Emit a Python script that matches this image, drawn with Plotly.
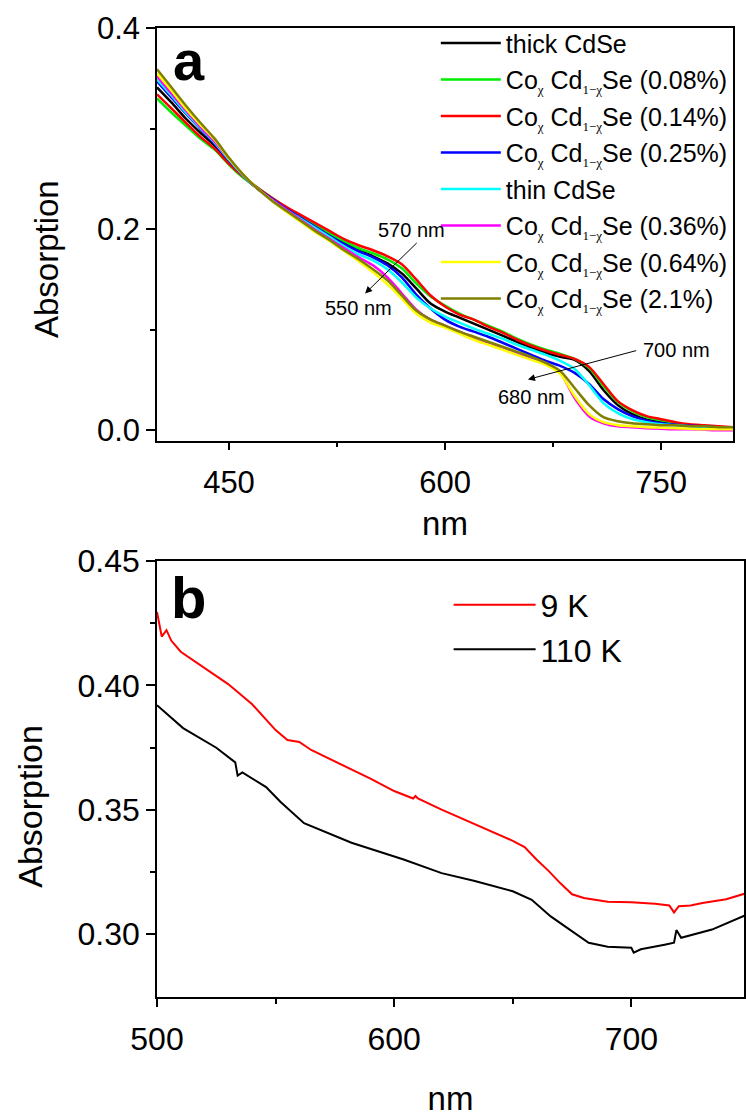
import plotly.graph_objects as go

# ---------------- Panel a data ----------------
wl_a = [400, 410, 420, 430, 440, 450, 460, 470, 480, 490, 500, 510, 520, 530, 540,
        550, 560, 570, 580, 590, 600, 610, 620, 630, 640, 650, 660, 670, 680, 690,
        700, 710, 720, 730, 740, 750, 760, 770, 780, 790, 800]

abs_thick = [0.341, 0.326, 0.310, 0.296, 0.283, 0.267, 0.252, 0.240,
             0.230, 0.220, 0.212, 0.203, 0.194, 0.186, 0.179, 0.173, 0.166, 0.156, 0.141, 0.126,
             0.118, 0.112, 0.106, 0.100, 0.094, 0.088, 0.082, 0.077, 0.073, 0.070, 0.059, 0.040,
             0.025, 0.016, 0.0105, 0.008, 0.0065, 0.005, 0.004, 0.003, 0.003]
abs_008 = [0.330, 0.316, 0.303, 0.290, 0.279, 0.264, 0.251, 0.241,
           0.231, 0.221, 0.213, 0.205, 0.196, 0.188, 0.181, 0.176, 0.170, 0.161, 0.146, 0.133,
           0.124, 0.116, 0.110, 0.104, 0.098, 0.091, 0.085, 0.080, 0.076, 0.071, 0.062, 0.044,
           0.028, 0.019, 0.013, 0.010, 0.007, 0.005, 0.004, 0.003, 0.003]
abs_014 = [0.334, 0.320, 0.306, 0.292, 0.280, 0.265, 0.252, 0.241,
           0.231, 0.222, 0.214, 0.206, 0.198, 0.190, 0.184, 0.179, 0.173, 0.165, 0.150, 0.134,
           0.123, 0.115, 0.110, 0.103, 0.097, 0.090, 0.084, 0.079, 0.075, 0.071, 0.063, 0.046,
           0.029, 0.020, 0.014, 0.011, 0.008, 0.006, 0.005, 0.004, 0.003]
abs_025 = [0.347, 0.331, 0.315, 0.300, 0.285, 0.268, 0.253, 0.240,
           0.230, 0.220, 0.211, 0.202, 0.193, 0.185, 0.178, 0.172, 0.164, 0.152, 0.135, 0.121,
           0.110, 0.103, 0.098, 0.093, 0.087, 0.081, 0.075, 0.069, 0.064, 0.057, 0.046, 0.031,
           0.021, 0.014, 0.0095, 0.007, 0.0055, 0.0045, 0.004, 0.003, 0.003]
abs_thin = [0.349, 0.333, 0.316, 0.301, 0.286, 0.269, 0.253, 0.240,
            0.229, 0.219, 0.210, 0.201, 0.192, 0.183, 0.175, 0.169, 0.160, 0.147, 0.132, 0.121,
            0.113, 0.107, 0.101, 0.096, 0.091, 0.085, 0.080, 0.075, 0.069, 0.061, 0.045, 0.027,
            0.017, 0.011, 0.008, 0.006, 0.005, 0.004, 0.0035, 0.003, 0.003]
abs_036 = [0.352, 0.335, 0.318, 0.302, 0.287, 0.270, 0.254, 0.240,
           0.229, 0.219, 0.209, 0.199, 0.190, 0.181, 0.172, 0.164, 0.152, 0.136, 0.120, 0.110,
           0.104, 0.098, 0.092, 0.087, 0.082, 0.077, 0.072, 0.067, 0.057, 0.032, 0.014, 0.007,
           0.004, 0.003, 0.002, 0.0015, 0.001, 0.001, 0.0005, 0.0, 0.0]
abs_064 = [0.355, 0.338, 0.320, 0.304, 0.289, 0.270, 0.254, 0.240,
           0.228, 0.217, 0.207, 0.197, 0.188, 0.178, 0.168, 0.157, 0.145, 0.131, 0.116, 0.107,
           0.102, 0.096, 0.090, 0.085, 0.080, 0.075, 0.070, 0.065, 0.056, 0.034, 0.016, 0.008,
           0.005, 0.004, 0.003, 0.0025, 0.002, 0.0015, 0.001, 0.001, 0.001]
abs_21 = [0.359, 0.341, 0.323, 0.306, 0.290, 0.271, 0.254, 0.240,
          0.228, 0.218, 0.208, 0.198, 0.189, 0.179, 0.170, 0.160, 0.149, 0.134, 0.119, 0.110,
          0.104, 0.098, 0.093, 0.088, 0.083, 0.078, 0.073, 0.067, 0.059, 0.042, 0.025, 0.013,
          0.009, 0.007, 0.006, 0.005, 0.005, 0.004, 0.004, 0.003, 0.003]

SUBX = '<sub><span style="font-size:13px;font-family:Liberation Serif">χ</span></sub>'
SUB1X = '<sub><span style="font-size:13px;font-family:Liberation Serif">1−χ</span></sub>'


def coname(p):
    return "Co" + SUBX + " Cd" + SUB1X + "Se (" + p + ")"


names_a = ["thick CdSe", coname("0.08%"), coname("0.14%"), coname("0.25%"),
           "thin CdSe", coname("0.36%"), coname("0.64%"), coname("2.1%")]
series_a = [abs_thick, abs_008, abs_014, abs_025, abs_thin, abs_036, abs_064, abs_21]
colors_a = ["#000000", "#00ee00", "#ff0000", "#0000ff", "#00ffff", "#ff00ff", "#ffff00", "#808000"]

# ---------------- Panel b data ----------------
wl_9K = [500, 502, 504, 506, 510, 520, 530, 540, 550, 555, 560, 565, 570, 580, 590, 600,
         608, 609, 610, 620, 630, 640, 650, 655, 660, 665, 670, 675, 680, 690, 700, 710,
         716, 718, 720, 725, 730, 740, 748]
abs_9K = [0.4295, 0.4196, 0.4222, 0.4180, 0.4135, 0.4070, 0.4005, 0.3925, 0.3820, 0.3780,
          0.3772, 0.3740, 0.3717, 0.3668, 0.3625, 0.3575, 0.3545, 0.3555, 0.3545, 0.3500,
          0.3458, 0.3415, 0.3375, 0.3350, 0.3300, 0.3255, 0.3205, 0.3160, 0.3145, 0.3130,
          0.3128, 0.3122, 0.3115, 0.3087, 0.3112, 0.3115, 0.3125, 0.3140, 0.3163]
wl_110K = [500, 511, 525, 532, 533, 534, 536, 546, 552, 562, 582, 604, 620, 634, 650, 658,
           666, 674, 682, 690, 698, 700, 701, 704, 714, 718, 719, 721, 734, 748]
abs_110K = [0.3920, 0.3828, 0.3749, 0.3696, 0.3690, 0.3637, 0.3650, 0.3591, 0.3532, 0.3446,
            0.3367, 0.3300, 0.3245, 0.3213, 0.3172, 0.3138, 0.3071, 0.3018, 0.2965, 0.2949,
            0.2945, 0.2945, 0.2925, 0.2939, 0.2957, 0.2965, 0.3016, 0.2985, 0.3018, 0.3075]

FONT = "Liberation Sans, Arial, Helvetica, sans-serif"

fig = go.Figure()
for i, (nm, ys, c) in enumerate(zip(names_a, series_a, colors_a)):
    fig.add_trace(go.Scatter(x=wl_a, y=ys, mode="lines", name=nm, legendgroup="g%d" % i,
                             line=dict(color=c, width=2.5, shape="spline", smoothing=0.8),
                             xaxis="x", yaxis="y", legend="legend"))

fig.add_trace(go.Scatter(x=wl_9K, y=abs_9K, mode="lines", name="9 K",
                         line=dict(color="#ff0000", width=2),
                         xaxis="x2", yaxis="y2", legend="legend2"))
fig.add_trace(go.Scatter(x=wl_110K, y=abs_110K, mode="lines", name="110 K",
                         line=dict(color="#000000", width=2),
                         xaxis="x2", yaxis="y2", legend="legend2"))

axis_common = dict(showline=True, linecolor="black", mirror=True, ticks="outside",
                   tickcolor="black", showgrid=False, zeroline=False)

fig.update_layout(
    width=746, height=1117,
    margin=dict(l=157, r=0, t=28, b=98),
    paper_bgcolor="white", plot_bgcolor="white",
    font=dict(family=FONT, color="black"),
    xaxis=dict(**axis_common, domain=[0, 0.9813], anchor="y", range=[400, 800],
               tickvals=[450, 600, 750], ticklen=8, tickwidth=1.5, linewidth=1.5,
               ticklabelstandoff=5,
               minor=dict(tickvals=[525, 675], ticklen=5, ticks="outside", tickcolor="black"),
               tickfont=dict(size=31),
               title=dict(text="nm", font=dict(size=33), standoff=13)),
    yaxis=dict(**axis_common, domain=[0.5742, 1.0], anchor="x", range=[-0.0103, 0.4],
               tickvals=[0.0, 0.2, 0.4], tickformat=".1f", ticklen=9, tickwidth=1.5,
               linewidth=1.5,
               minor=dict(tickvals=[0.1, 0.3], ticklen=5, ticks="outside", tickcolor="black"),
               tickfont=dict(size=31)),
    xaxis2=dict(**axis_common, domain=[0, 1.0], anchor="y2", range=[500, 747.5],
                tickvals=[500, 600, 700], ticklen=8, tickwidth=1.5, linewidth=2,
                ticklabelstandoff=5,
                minor=dict(tickvals=[550, 650], ticklen=5, ticks="outside", tickcolor="black"),
                tickfont=dict(size=32),
                title=dict(text="nm", font=dict(size=33), standoff=36)),
    yaxis2=dict(**axis_common, domain=[0, 0.45], anchor="x2", range=[0.2747, 0.45],
                tickvals=[0.30, 0.35, 0.40, 0.45], tickformat=".2f", ticklen=9,
                tickwidth=1.5, linewidth=1.5,
                minor=dict(tickvals=[0.325, 0.375, 0.425], ticklen=5, ticks="outside",
                           tickcolor="black"),
                tickfont=dict(size=32)),
    legend=dict(x=0.475, y=1.008, xanchor="left", yanchor="top", bgcolor="rgba(0,0,0,0)",
                font=dict(size=25), itemwidth=60, tracegroupgap=1),
    legend2=dict(x=0.4968, y=0.433, xanchor="left", yanchor="top", bgcolor="rgba(0,0,0,0)",
                 font=dict(size=32), itemwidth=82),
    showlegend=True,
)

ann = [
    dict(text="Absorption", x=-0.1885, y=0.7619, xref="paper", yref="paper", showarrow=False,
         textangle=-90, font=dict(size=33), xanchor="center", yanchor="middle"),
    dict(text="Absorption", x=-0.2156, y=0.1968, xref="paper", yref="paper", showarrow=False,
         textangle=-90, font=dict(size=34), xanchor="center", yanchor="middle"),
    dict(text="<b>a</b>", x=0.054, y=0.966, xref="paper", yref="paper", showarrow=False,
         font=dict(size=56), xanchor="center", yanchor="middle"),
    dict(text="<b>b</b>", x=0.053, y=0.412, xref="paper", yref="paper", showarrow=False,
         font=dict(size=58), xanchor="center", yanchor="middle"),
    dict(text="570 nm", x=577, y=0.199, xref="x", yref="y", showarrow=False, font=dict(size=20)),
    dict(text="550 nm", x=540, y=0.122, xref="x", yref="y", showarrow=False, font=dict(size=20)),
    dict(text="700 nm", x=761, y=0.0796, xref="x", yref="y", showarrow=False, font=dict(size=20)),
    dict(text="680 nm", x=660, y=0.033, xref="x", yref="y", showarrow=False, font=dict(size=20)),
    dict(text="", x=544.5, y=0.136, ax=581.4, ay=0.1877, xref="x", yref="y", axref="x",
         ayref="y", showarrow=True, arrowhead=2, arrowsize=1.4, arrowwidth=1, arrowcolor="black"),
    dict(text="", x=657.6, y=0.0505, ax=733.8, ay=0.0796, xref="x", yref="y", axref="x",
         ayref="y", showarrow=True, arrowhead=2, arrowsize=1.4, arrowwidth=1, arrowcolor="black"),
]
fig.update_layout(annotations=ann)

fig.write_html("out.html", config={"displayModeBar": False},
               post_script="document.body.style.margin='0px';document.body.style.overflow='hidden';")
